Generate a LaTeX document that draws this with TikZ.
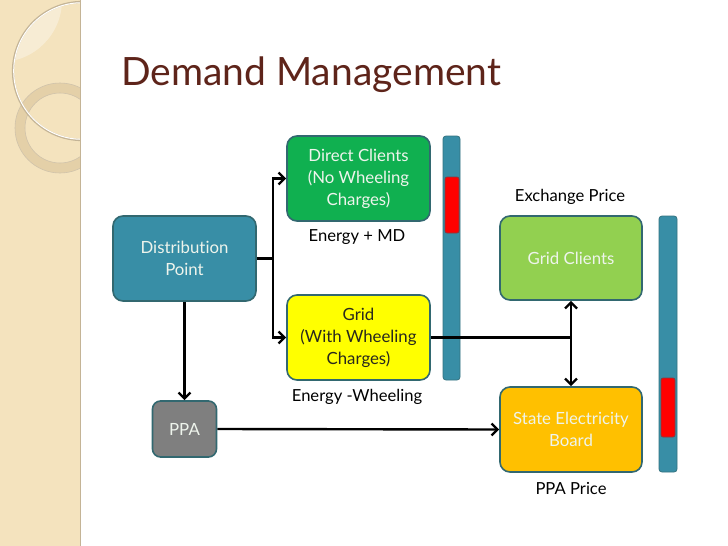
\documentclass[tikz,border=0pt]{standalone}
\usepackage{fontspec}
\setmainfont{Lato}[Ligatures={NoCommon}]
\usetikzlibrary{arrows.meta,calc}
\definecolor{strip}{RGB}{244,227,190}
\definecolor{stripedge}{RGB}{196,180,150}
\definecolor{ringc}{RGB}{228,208,168}
\definecolor{titlec}{RGB}{94,36,26}
\definecolor{tealf}{RGB}{56,142,166}
\definecolor{edgec}{RGB}{50,104,112}
\definecolor{greenf}{RGB}{16,176,80}
\definecolor{yellowf}{RGB}{255,255,0}
\definecolor{lgreenf}{RGB}{146,208,80}
\definecolor{orangef}{RGB}{255,192,0}
\definecolor{grayf}{RGB}{127,127,127}
\definecolor{redf}{RGB}{255,0,0}
\definecolor{softw}{RGB}{238,244,236}
\definecolor{darkt}{RGB}{40,40,30}
\tikzset{
  box/.style={draw=edgec, line width=1.6pt, rounded corners=10pt, minimum width=143pt, minimum height=85pt, align=center, font=\fontsize{16.8}{22}\selectfont, inner sep=0pt},
  lbl/.style={font=\fontsize{16.6}{19}\selectfont, text=black, inner sep=0pt},
  conn/.style={line width=2.4pt, black},
  arr/.style={conn, -{Straight Barb[length=6pt,width=12pt]}},
  darr/.style={conn, {Straight Barb[length=6pt,width=12pt]}-{Straight Barb[length=6pt,width=12pt]}},
  barstyle/.style={fill=tealf, draw=edgec!70!tealf, line width=0.8pt, rounded corners=3pt},
  redstyle/.style={fill=redf, draw=edgec!60!redf, line width=0.8pt, rounded corners=2pt}
}
\begin{document}
\begin{tikzpicture}[x=1pt,y=-1pt]
\useasboundingbox (0,0) rectangle (728,546);
\fill[white] (0,0) rectangle (728,546);
% left decorative strip
\fill[strip] (0,0) rectangle (80,546);
\begin{scope}
  \clip (0,0) rectangle (80,546);
  \begin{scope}
    \clip (82,71) circle (69);
    \fill[white, opacity=0.35] (0,0) circle (62);
  \end{scope}
  \fill[ringc, even odd rule] (60,128) circle (45) (60,128) circle (35);
  \draw[stripedge!80!white, line width=0.6pt] (60,128) circle (45) (60,128) circle (35);
  \draw[stripedge, line width=2.2pt] (82,71) circle (69);
  \draw[white, line width=1pt] (82,71) circle (68.3);
\end{scope}
\draw[stripedge, line width=1.2pt] (80.5,0) -- (80.5,546);
% title
\node[anchor=base west, inner sep=0pt, text=titlec, font=\fontsize{39}{41}\selectfont] (title) at (121,85) {Demand Management};
% bars
\draw[barstyle] (443,136) rectangle (460,380);
\draw[redstyle] (445,177) rectangle (459,233);
\draw[barstyle] (659,216) rectangle (677,472);
\draw[redstyle] (661,378) rectangle (675,437);
% boxes
\node[box, fill=tealf, text=softw] (dp) at (184.5,258.5) {Distribution\\Point};
\node[box, fill=greenf, text=softw] (dc) at (358.5,178.5) {Direct Clients\\(No Wheeling\\Charges)};
\node[box, fill=yellowf, text=darkt] (grid) at (358.5,337.5) {Grid\\(With Wheeling\\Charges)};
\node[box, fill=lgreenf, text=softw, minimum width=142pt, minimum height=84pt] (gc) at (571,258) {Grid Clients};
\node[box, fill=orangef, text=softw, minimum width=142pt] (seb) at (571,429.5) {State Electricity\\Board};
\node[box, fill=grayf, text=softw, minimum width=64pt, minimum height=56pt, rounded corners=8pt] (ppa) at (184.5,429) {PPA};
% labels
\node[lbl] (l1) at (357,237) {Energy + MD};
\node[lbl] (l2) at (357,397) {Energy -Wheeling};
\node[lbl] (l3) at (570,197) {Exchange Price};
\node[lbl] (l4) at (571,488) {PPA Price};
% connectors
\coordinate (j) at ($(dp.east)+(16,0)$);
\draw[conn] (dp.east) -- (j);
\draw[arr] (j) |- (dc.west);
\draw[arr] (j) |- (grid.west);
\draw[arr] (dp.south) -- (ppa.north);
\draw[arr] (ppa.east) -- (seb.west);
\coordinate (k) at (gc.south |- grid.east);
\draw[conn] (grid.east) -- (k);
\draw[darr] (gc.south) -- (seb.north);
\end{tikzpicture}
\end{document}
